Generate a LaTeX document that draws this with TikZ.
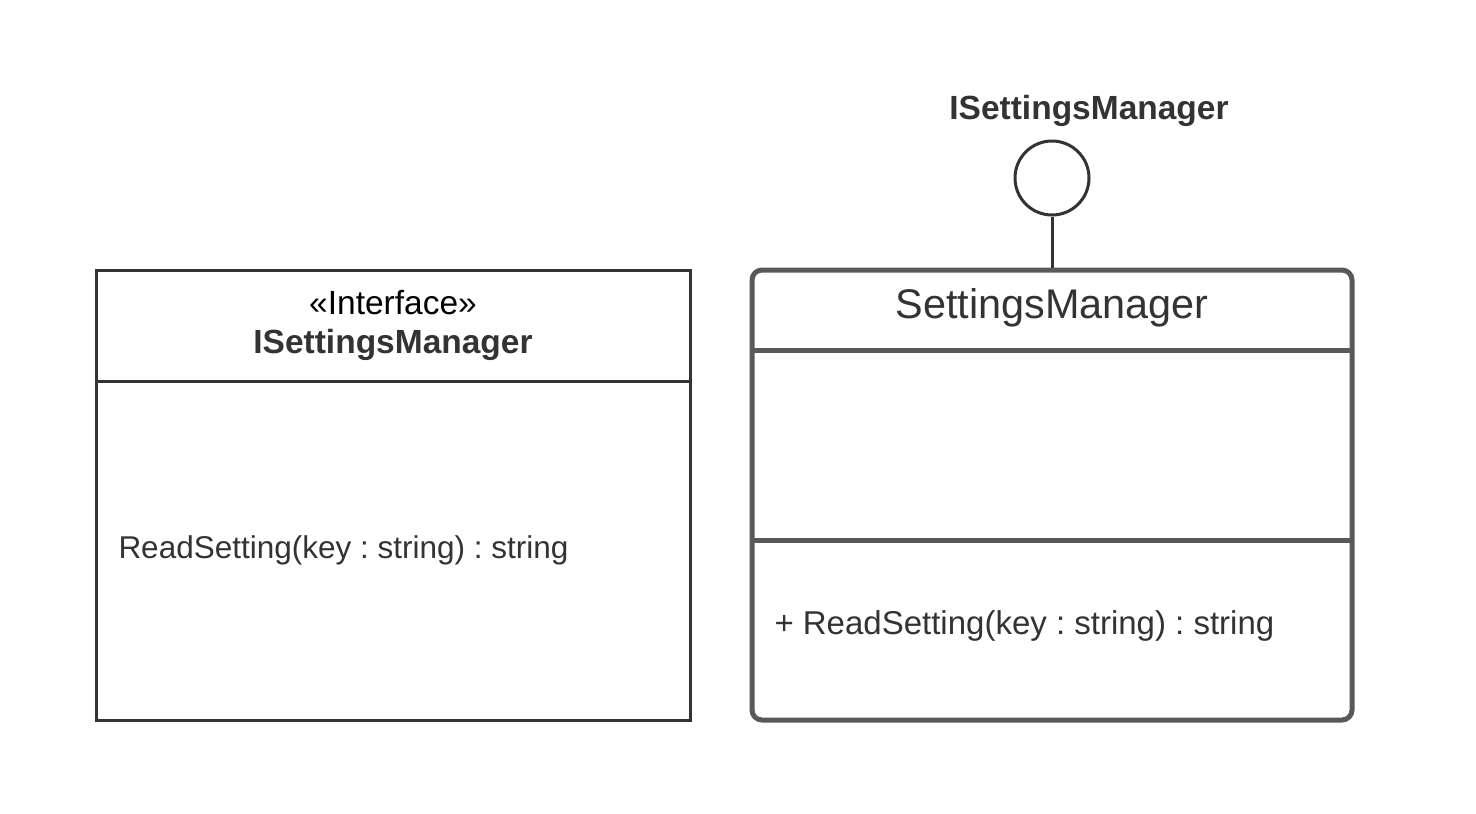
\documentclass[tikz,border=0pt]{standalone}
\usepackage{fontspec}
\setmainfont{Liberation Sans}
\usepackage{tikz}
\frenchspacing
\definecolor{ink}{RGB}{51,51,51}
\definecolor{boxgray}{RGB}{89,89,89}
\tikzset{every picture/.style={line width=3pt}}
\tikzset{
  umltext/.style={inner sep=0pt, text=ink, font=\fontsize{31.5}{36}\selectfont},
  umlbold/.style={inner sep=0pt, text=ink, font=\fontsize{33.5}{38}\selectfont\bfseries},
}

\begin{document}
\begin{tikzpicture}[x=1pt,y=1pt,yscale=-1,xscale=1]
\useasboundingbox (0,0) rectangle (1476,814);
% interface box
\draw [ink]  (96,270) -- (690,270) -- (690,720) -- (96,720) -- cycle ;
\draw [ink]  (96,381) -- (690,381) ;
\draw (393,303) node [umltext, text=black, font=\fontsize{33.5}{38}\selectfont] (stereo) {«Interface»};
\draw (393,345) node [umlbold] (ifname) {ISettingsManager};
\draw (117,550) node [umltext, anchor=west] (ifop) {ReadSetting(key : string) : string};
% class box
\draw [boxgray, line width=5pt, rounded corners=10pt]  (752,270) -- (1352,270) -- (1352,720) -- (752,720) -- cycle ;
\draw [boxgray, line width=5pt]  (752,350) -- (1352,350) ;
\draw [boxgray, line width=5pt]  (752,540) -- (1352,540) ;
\draw (1052,308) node [inner sep=0pt, text=ink, font=\fontsize{41.4}{46}\selectfont] (clsname) {SettingsManager};
\draw (773,626) node [umltext, anchor=west, font=\fontsize{33}{38}\selectfont] (clsop) {+ ReadSetting(key : string) : string};
% lollipop
\draw (1089,111) node [umlbold] (lolliname) {ISettingsManager};
\draw [ink] (1052,178) node [circle, draw=ink, minimum size=74pt, inner sep=0pt] (lolli) {} ;
\coordinate (clstop) at (1052,268);
\draw [ink] (lolli.south) -- (clstop) ;
\end{tikzpicture}
\end{document}
